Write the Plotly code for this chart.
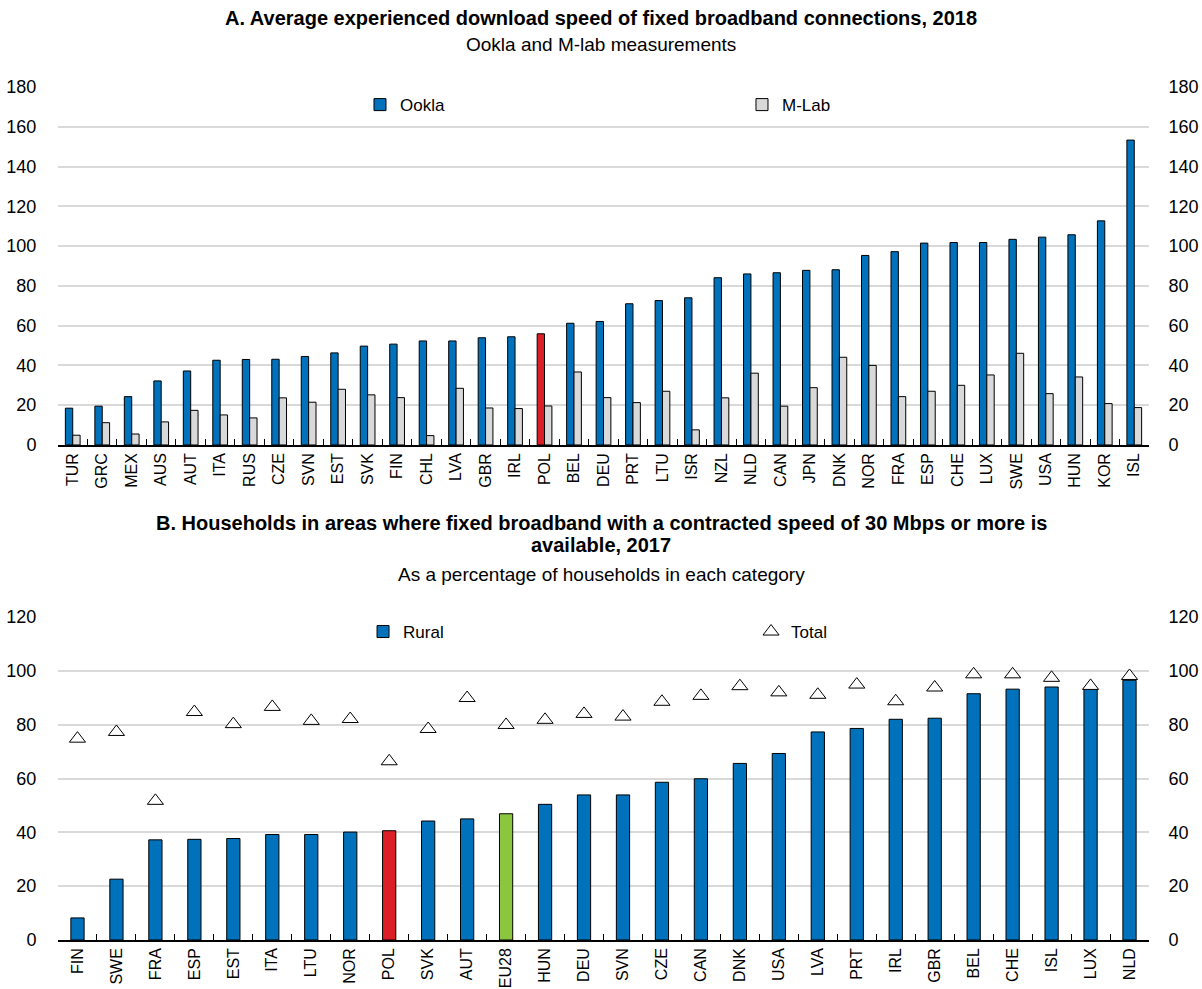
import plotly.graph_objects as go

# panel A: download speed, Mbps
countries_a = ["TUR", "GRC", "MEX", "AUS", "AUT", "ITA", "RUS", "CZE", "SVN", "EST",
               "SVK", "FIN", "CHL", "LVA", "GBR", "IRL", "POL", "BEL", "DEU", "PRT",
               "LTU", "ISR", "NZL", "NLD", "CAN", "JPN", "DNK", "NOR", "FRA", "ESP",
               "CHE", "LUX", "SWE", "USA", "HUN", "KOR", "ISL"]
ookla = [18.5, 19.5, 24.3, 32.2, 37.2, 42.6, 43.0, 43.1, 44.5, 46.3,
         49.7, 50.7, 52.3, 52.3, 53.9, 54.4, 55.9, 61.2, 62.1, 71.0,
         72.6, 74.0, 84.1, 86.0, 86.6, 87.8, 88.1, 95.3, 97.2, 101.5,
         101.8, 101.8, 103.4, 104.5, 105.7, 112.7, 153.3]
mlab = [4.9, 11.2, 5.5, 11.6, 17.4, 15.1, 13.6, 23.7, 21.5, 28.0,
        25.2, 23.8, 4.7, 28.5, 18.6, 18.3, 19.6, 36.7, 23.8, 21.3,
        27.0, 7.6, 23.7, 36.1, 19.5, 28.8, 44.1, 40.0, 24.3, 27.0,
        30.0, 35.2, 46.1, 25.8, 34.2, 20.8, 18.8]

# panel B: households with >=30 Mbps available, %
countries_b = ["FIN", "SWE", "FRA", "ESP", "EST", "ITA", "LTU", "NOR", "POL", "SVK",
               "AUT", "EU28", "HUN", "DEU", "SVN", "CZE", "CAN", "DNK", "USA", "LVA",
               "PRT", "IRL", "GBR", "BEL", "CHE", "ISL", "LUX", "NLD"]
rural = [8.2, 22.6, 37.2, 37.4, 37.7, 39.2, 39.2, 40.1, 40.6, 44.2,
         45.0, 46.9, 50.4, 53.9, 53.9, 58.6, 59.9, 65.6, 69.3, 77.3,
         78.6, 82.0, 82.4, 91.5, 93.2, 94.0, 93.5, 96.5]
total = [74.8, 77.3, 51.7, 84.7, 80.2, 86.6, 81.4, 82.1, 66.4, 78.4,
         89.9, 79.9, 81.8, 84.0, 83.0, 88.5, 90.7, 94.3, 92.0, 91.1,
         94.9, 88.7, 93.8, 98.7, 98.7, 97.4, 94.4, 98.1]

BLUE = "#0072BC"
RED = "#DC1F26"
GREEN = "#8CC63F"
GREY = "#D9D9D9"
FONT = "Liberation Sans, Arial"


def highlight(names, base):
    cols = []
    for c in names:
        if c == "POL":
            cols.append(RED)
        elif c == "EU28":
            cols.append(GREEN)
        else:
            cols.append(base)
    return cols


fig = go.Figure()

fig.add_trace(go.Bar(x=countries_a, y=ookla, name="Ookla",
                     marker=dict(color=highlight(countries_a, BLUE), line=dict(color="black", width=1)),
                     xaxis="x", yaxis="y", legend="legend"))
fig.add_trace(go.Bar(x=countries_a, y=mlab, name="M-Lab",
                     marker=dict(color=GREY, line=dict(color="black", width=1)),
                     xaxis="x", yaxis="y", legend="legend"))

fig.add_trace(go.Bar(x=countries_b, y=rural, name="Rural",
                     marker=dict(color=highlight(countries_b, BLUE), line=dict(color="black", width=1)),
                     xaxis="x2", yaxis="y2", legend="legend2", width=0.34))
fig.add_trace(go.Scatter(x=countries_b, y=total, name="Total", mode="markers",
                         marker=dict(symbol="triangle-up", size=14, color="white",
                                     line=dict(color="black", width=1)),
                         xaxis="x2", yaxis="y2", legend="legend2"))

# hidden copies so the right-hand axes get drawn
fig.add_trace(go.Scatter(x=countries_a, y=ookla, mode="markers", marker=dict(opacity=0),
                         xaxis="x", yaxis="y3", showlegend=False, hoverinfo="skip"))
fig.add_trace(go.Scatter(x=countries_b, y=rural, mode="markers", marker=dict(opacity=0),
                         xaxis="x2", yaxis="y4", showlegend=False, hoverinfo="skip"))

yax = dict(showgrid=True, gridcolor="#D9D9D9", gridwidth=1.5, zeroline=False,
           ticks="outside", ticklen=17, tickcolor="rgba(0,0,0,0)",
           tickfont=dict(size=18, color="black"), showline=False, automargin=False)
xax = dict(type="category", showline=True, linecolor="black", linewidth=1.5,
           ticks="inside", tickson="boundaries", ticklen=6, tickcolor="black",
           tickangle=-90, tickfont=dict(size=16, color="black"), showgrid=False,
           automargin=False)

fig.update_layout(
    width=1202, height=989,
    margin=dict(l=58, r=53, t=10, b=49),
    paper_bgcolor="white", plot_bgcolor="white",
    font=dict(family=FONT, color="black"),
    barmode="group", bargap=0.5, bargroupgap=0,
    xaxis=dict(xax, domain=[0, 1], anchor="y", range=[-0.5, len(countries_a) - 0.5]),
    yaxis=dict(yax, domain=[0.5323, 0.9172], range=[0, 180], dtick=20, anchor="x"),
    yaxis3=dict(yax, range=[0, 180], dtick=20, overlaying="y", side="right", anchor="x",
                showgrid=False, ticklen=15),
    xaxis2=dict(xax, domain=[0, 1], anchor="y2", range=[-0.5, len(countries_b) - 0.5]),
    yaxis2=dict(yax, domain=[0, 0.3473], range=[0, 120], dtick=20, anchor="x2"),
    yaxis4=dict(yax, range=[0, 120], dtick=20, overlaying="y2", side="right", anchor="x2",
                showgrid=False, ticklen=15),
    legend=dict(orientation="h", x=0.2768, y=0.8978, xanchor="left", yanchor="middle",
                entrywidth=337, font=dict(size=17), bgcolor="rgba(0,0,0,0)"),
    legend2=dict(orientation="h", x=0.2796, y=0.3312, xanchor="left", yanchor="middle",
                 entrywidth=343, font=dict(size=17), bgcolor="rgba(0,0,0,0)"),
    annotations=[
        dict(text="<b>A. Average experienced download speed of fixed broadband connections, 2018</b>",
             x=0.498, y=0.9914, xref="paper", yref="paper", showarrow=False,
             font=dict(size=20), yanchor="middle"),
        dict(text="Ookla and M-lab measurements",
             x=0.498, y=0.9624, xref="paper", yref="paper", showarrow=False,
             font=dict(size=19), yanchor="middle"),
        dict(text="<b>B. Households in areas where fixed broadband with a contracted speed of 30 Mbps or more is</b>",
             x=0.498, y=0.4484, xref="paper", yref="paper", showarrow=False,
             font=dict(size=20), yanchor="middle"),
        dict(text="<b>available, 2017</b>",
             x=0.498, y=0.4247, xref="paper", yref="paper", showarrow=False,
             font=dict(size=20), yanchor="middle"),
        dict(text="As a percentage of households in each category",
             x=0.498, y=0.3925, xref="paper", yref="paper", showarrow=False,
             font=dict(size=19), yanchor="middle"),
    ],
)

# page margin off so the 1202x989 figure fills the window exactly
fig.write_html("out.html", config={"displayModeBar": False},
               post_script="document.body.style.margin='0';document.body.style.overflow='hidden';")
